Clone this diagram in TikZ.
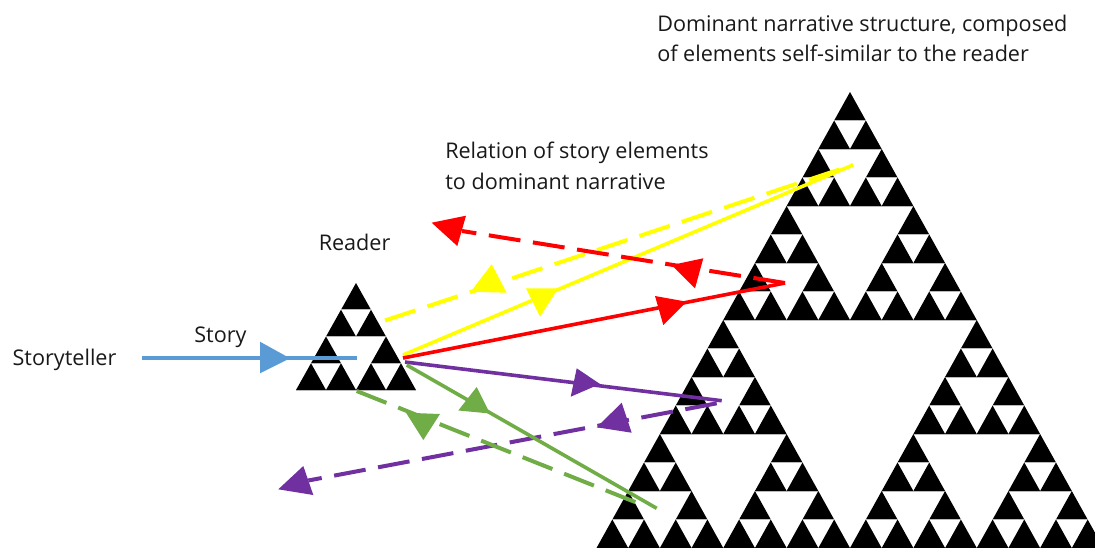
\documentclass[tikz,border=0pt]{standalone}
\usepackage{fontspec}
\setmainfont{Open Sans}
\definecolor{storyblue}{HTML}{5B9BD5}
\definecolor{relyellow}{HTML}{FFFF00}
\definecolor{relred}{HTML}{FF0000}
\definecolor{relpurple}{HTML}{7030A0}
\definecolor{relgreen}{HTML}{70AD47}

% Sierpinski triangle: depth, apex x, apex y, half base width, height
\newcommand\sierpinski[5]{%
  \ifnum#1=0 %
    \fill[black] (#2,#3) -- ++(-#4,#5) -- ++({2*#4},0) -- cycle;
    \draw[basestroke] (#2,#3) ++(-#4,#5) -- ++({2*#4},0);
  \else
    \begingroup
      \pgfmathsetmacro\sgW{#4/2}%
      \pgfmathsetmacro\sgH{#5/2}%
      \pgfmathtruncatemacro\sgD{#1-1}%
      \pgfmathsetmacro\sgL{#2-\sgW}%
      \pgfmathsetmacro\sgR{#2+\sgW}%
      \pgfmathsetmacro\sgB{#3+\sgH}%
      \edef\sgNext{%
        \noexpand\sierpinski{\sgD}{#2}{#3}{\sgW}{\sgH}%
        \noexpand\sierpinski{\sgD}{\sgL}{\sgB}{\sgW}{\sgH}%
        \noexpand\sierpinski{\sgD}{\sgR}{\sgB}{\sgW}{\sgH}}%
      \sgNext
    \endgroup
  \fi}

\begin{document}
\begin{tikzpicture}[x=0.75pt,y=-0.75pt,
  txt/.style={anchor=base west, inner sep=0pt, font=\fontsize{16.2}{20}\selectfont, text=black!90},
  basestroke/.style={draw=gray!55, line width=0.45pt},
  solidline/.style={line width=2.7pt},
  dashline/.style={line width=3pt, dash pattern=on 24pt off 9.5pt}]

\useasboundingbox (0,0) rectangle (1095,547);

% dominant narrative structure
\begin{scope}
  \clip (0,0) rectangle (1095,547);
  \sierpinski{4}{850}{92}{253.5}{456}
\end{scope}

% the reader
\sierpinski{2}{356}{283}{60}{107}

% texts
\node[txt] (dom1) at (657,31) {Dominant narrative structure, composed};
\node[txt] (dom2) at (657,61.5) {of elements self-similar to the reader};
\node[txt] (rel1) at (445,158.3) {Relation of story elements};
\node[txt] (rel2) at (445,189.3) {to dominant narrative};
\node[txt] (reader) at (318.5,250) {Reader};
\node[txt] (story) at (194,342.7) {Story};
\node[txt] (teller) at (12.3,365) {Storyteller};

% connector end points
\coordinate (tellerout) at (142,358);
\coordinate (readerin) at (357,358);
\coordinate (ryel) at (403,355);
\coordinate (ryeld) at (385,320.5);
\coordinate (rred) at (403,358);
\coordinate (rpur) at (405,362);
\coordinate (rgrn) at (406.7,365);
\coordinate (rgrnd) at (356.7,391);
\coordinate (tyel) at (853,165);
\coordinate (tred) at (785,283);
\coordinate (redback) at (462,231);
\coordinate (tpur) at (721.7,400.7);
\coordinate (tpurd) at (716.7,403.3);
\coordinate (purback) at (308.3,480.5);
\coordinate (tgrn) at (656.7,508.3);
\coordinate (tgrnd) at (638.3,503.3);

% story from storyteller to reader
\draw[storyblue, line width=3.2pt] (tellerout) -- (readerin);
\fill[storyblue] (260,341.7) -- (290,358.3) -- (260,373.3) -- cycle;

% yellow relations
\draw[relyellow, dashline] (ryeld) -- (tyel);
\draw[relyellow, solidline] (ryel) -- (tyel);
\fill[relyellow] (491.7,264.3) -- (470.7,291.7) -- (506.7,292.7) -- cycle;
\fill[relyellow] (526,288.3) -- (558.3,288.3) -- (540,316.7) -- cycle;

% red relations
\draw[relred, dashline] (tred) -- (redback);
\draw[relred, solidline] (rred) -- (tred);
\fill[relred] (431.7,222.7) -- (466,215.7) -- (457.3,246) -- cycle;
\fill[relred] (671.7,265) -- (703.3,258.3) -- (695,288.3) -- cycle;
\fill[relred] (655,296) -- (686.7,301.7) -- (663.3,325) -- cycle;

% purple relations
\draw[relpurple, solidline] (rpur) -- (tpur);
\draw[relpurple, dashline] (tpurd) -- (purback);
\fill[relpurple] (576.7,368.3) -- (600,384) -- (570.7,396.7) -- cycle;
\fill[relpurple] (621.7,402.7) -- (631.7,432.7) -- (596.7,427.3) -- cycle;
\fill[relpurple] (278.3,489.3) -- (303.3,466) -- (313.3,495) -- cycle;

% green relations
\draw[relgreen, solidline] (rgrn) -- (tgrn);
\draw[relgreen, dashline] (rgrnd) -- (tgrnd);
\fill[relgreen] (476.7,387) -- (458.3,410.5) -- (490,413.5) -- cycle;
\fill[relgreen] (406,412.7) -- (440,414) -- (423.3,440) -- cycle;
\end{tikzpicture}
\end{document}
